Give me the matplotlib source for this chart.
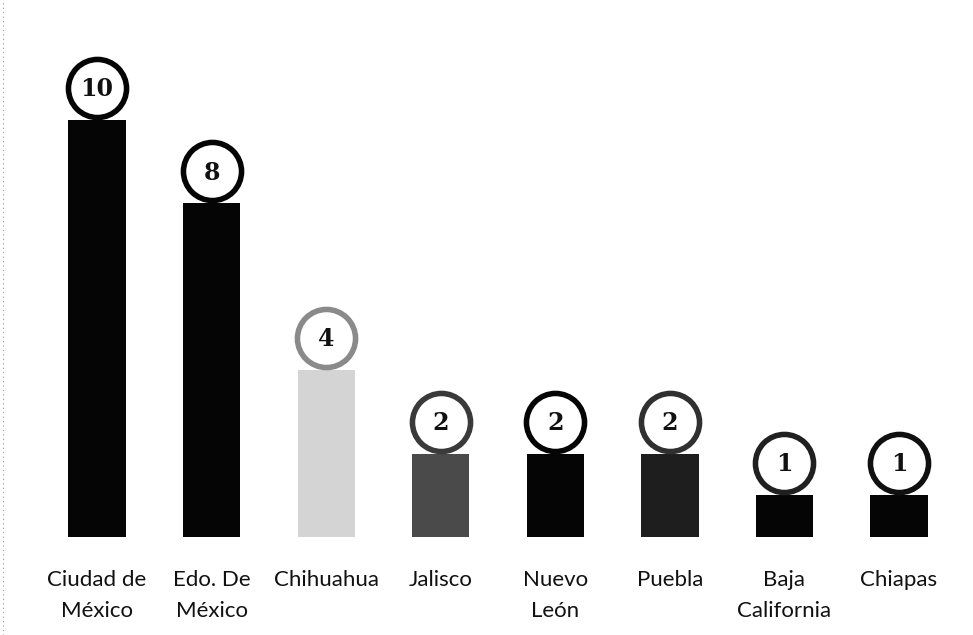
import matplotlib
matplotlib.use("Agg")
import matplotlib.pyplot as plt

# datos
estados = ["Ciudad de\nMéxico", "Edo. De\nMéxico", "Chihuahua", "Jalisco",
           "Nuevo\nLeón", "Puebla", "Baja\nCalifornia", "Chiapas"]
casos = [10, 8, 4, 2, 2, 2, 1, 1]
colores_barra = ["#050505", "#050505", "#d4d4d4", "#4a4a4a",
                 "#050505", "#1e1e1e", "#050505", "#050505"]
colores_circulo = ["#050505", "#050505", "#8a8a8a", "#3a3a3a",
                   "#050505", "#303030", "#202020", "#101010"]

fig = plt.figure(figsize=(9.73, 6.35), dpi=100)
ax = fig.add_axes([0, 0, 1, 1])

x = list(range(len(estados)))
ax.bar(x, casos, width=0.5, color=colores_barra)

# circulos con el numero encima de cada barra
for i, v in enumerate(casos):
    ax.scatter(i, v + 0.77, s=1750, facecolor="white",
               edgecolor=colores_circulo[i], linewidth=4, zorder=3)
    ax.text(i, v + 0.74, str(v), ha="center", va="center",
            fontsize=17, fontweight="semibold", family="DejaVu Serif",
            color="#111111", zorder=4)
    ax.text(i, -0.78, estados[i], ha="center", va="top", fontsize=16,
            family="Lato", color="#111111", linespacing=1.7)

ax.set_xlim(-0.847, 7.646)
ax.set_ylim(-2.35, 12.88)
ax.axis("off")

# borde punteado del escaneo a la izquierda
ax.axvline(-0.82, color="#999999", linewidth=0.8, linestyle=(0, (1, 3)))

fig.savefig("out.png", dpi=100)
